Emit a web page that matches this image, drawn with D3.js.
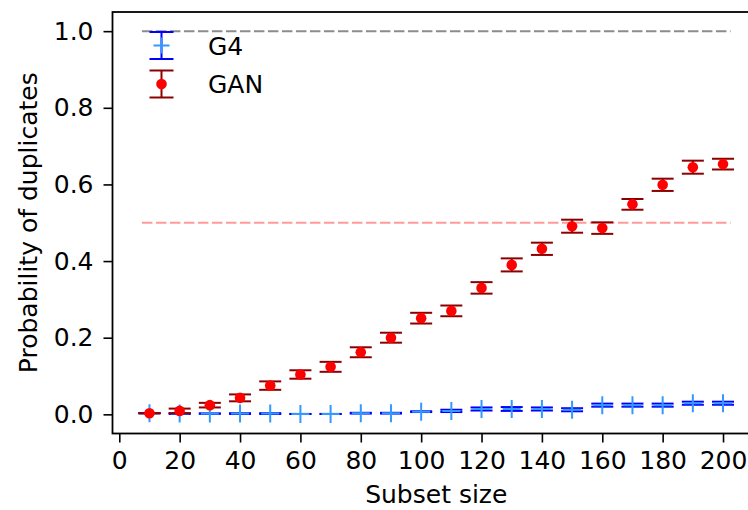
<!DOCTYPE html>
<html>
<head>
  <meta charset="utf-8">
  <title>Probability of duplicates</title>
  <script src="https://d3js.org/d3.v7.min.js"></script>
  <style>
    body { margin: 0; background: #fff; }
    svg { display: block; overflow: hidden; }
    text { font-family: "DejaVu Sans", sans-serif; fill: #000; }
  </style>
</head>
<body>
  <script>
    // data
    const subsetSizes = [10, 20, 30, 40, 50, 60, 70, 80, 90, 100, 110, 120, 130, 140, 150, 160, 170, 180, 190, 200];
    const ganMean = [0.003, 0.009, 0.024, 0.043, 0.075, 0.104, 0.124, 0.162, 0.200, 0.251, 0.270, 0.330, 0.390, 0.432, 0.491, 0.486, 0.548, 0.599, 0.645, 0.653];
    const ganErr  = [0.000, 0.006, 0.006, 0.009, 0.011, 0.011, 0.013, 0.013, 0.013, 0.014, 0.014, 0.015, 0.017, 0.016, 0.017, 0.015, 0.014, 0.016, 0.017, 0.014];
    const g4Mean  = [0.003, 0.002, 0.002, 0.002, 0.002, 0.001, 0.001, 0.003, 0.003, 0.007, 0.009, 0.014, 0.014, 0.014, 0.012, 0.024, 0.024, 0.024, 0.029, 0.029];
    const g4Err   = [0.000, 0.001, 0.000, 0.001, 0.001, 0.000, 0.000, 0.001, 0.001, 0.001, 0.003, 0.004, 0.005, 0.004, 0.004, 0.004, 0.004, 0.004, 0.004, 0.004];
    const xTicks = [0, 20, 40, 60, 80, 100, 120, 140, 160, 180, 200];
    const yTicks = [0.0, 0.2, 0.4, 0.6, 0.8, 1.0];
    const refLines = [{value: 1.0, color: "#8c8c8c"}, {value: 0.5, color: "#ff9a9a"}];
    const refSpan = [7.5, 202.5];

    const width = 748, height = 510;
    const plot = {left: 112.5, top: 12, right: 760, bottom: 433.5};
    const fontSize = 25;

    const svg = d3.select("body").append("svg")
        .attr("width", width)
        .attr("height", height);

    const x = d3.scaleLinear().domain([-2.25, 212.25]).range([plot.left, plot.right]);
    const y = d3.scaleLinear().domain([-0.05, 1.05]).range([plot.bottom, plot.top]);

    // axes
    const xAxis = svg.append("g")
        .attr("transform", `translate(0,${plot.bottom})`)
        .call(d3.axisBottom(x).tickValues(xTicks).tickFormat(d3.format("d")).tickSize(9).tickPadding(9));
    const yAxis = svg.append("g")
        .attr("transform", `translate(${plot.left},0)`)
        .call(d3.axisLeft(y).tickValues(yTicks).tickFormat(d3.format(".1f")).tickSize(9).tickPadding(10));
    [xAxis, yAxis].forEach(function(g) {
      g.select(".domain").remove();
      g.selectAll(".tick line").attr("stroke", "#000").attr("stroke-width", 1.6);
      g.selectAll(".tick text").style("font-size", fontSize + "px").style("font-family", "DejaVu Sans");
    });

    // spines
    svg.append("rect")
        .attr("x", plot.left).attr("y", plot.top)
        .attr("width", plot.right - plot.left).attr("height", plot.bottom - plot.top)
        .attr("fill", "none").attr("stroke", "#000").attr("stroke-width", 1.8);

    // dashed reference lines
    svg.selectAll(".ref")
      .data(refLines).enter()
      .append("line")
        .attr("x1", x(refSpan[0])).attr("x2", x(refSpan[1]))
        .attr("y1", d => y(d.value)).attr("y2", d => y(d.value))
        .attr("stroke", d => d.color)
        .attr("stroke-width", 2)
        .attr("stroke-dasharray", "10.5,3.5");

    const capHalf = 11;

    function errorBars(g, means, errs, color) {
      const pts = subsetSizes.map((s, i) => ({s: s, m: means[i], e: errs[i]}));
      g.selectAll(".bar").data(pts).enter().append("line")
          .attr("x1", d => x(d.s)).attr("x2", d => x(d.s))
          .attr("y1", d => y(d.m - d.e)).attr("y2", d => y(d.m + d.e))
          .attr("stroke", color).attr("stroke-width", 2);
      ["lo", "hi"].forEach(function(side) {
        g.selectAll(".cap-" + side).data(pts).enter().append("line")
            .attr("x1", d => x(d.s) - capHalf).attr("x2", d => x(d.s) + capHalf)
            .attr("y1", d => y(side === "lo" ? d.m - d.e : d.m + d.e))
            .attr("y2", d => y(side === "lo" ? d.m - d.e : d.m + d.e))
            .attr("stroke", color).attr("stroke-width", 2);
      });
      return pts;
    }

    function plus(g, cx, cy, r) {
      g.append("path")
          .attr("d", `M${cx - r},${cy}H${cx + r}M${cx},${cy - r}V${cy + r}`)
          .attr("stroke", "#3399ff").attr("stroke-width", 2).attr("fill", "none");
    }

    // G4 series
    const g4 = svg.append("g");
    const g4Pts = errorBars(g4, g4Mean, g4Err, "#0000ff");
    g4Pts.forEach(d => plus(g4, x(d.s), y(d.m), 9));

    // GAN series
    const gan = svg.append("g");
    const ganPts = errorBars(gan, ganMean, ganErr, "#8b0000");
    gan.selectAll(".dot").data(ganPts).enter().append("circle")
        .attr("cx", d => x(d.s)).attr("cy", d => y(d.m))
        .attr("r", 5.3).attr("fill", "#ff0000");

    // legend
    const legend = svg.append("g");
    const entries = [
      {label: "G4", color: "#0000ff", cy: 45.5},
      {label: "GAN", color: "#8b0000", cy: 84}
    ];
    entries.forEach(function(e, i) {
      const lx = 161.5;
      legend.append("line").attr("x1", lx).attr("x2", lx).attr("y1", e.cy - 13.5).attr("y2", e.cy + 13.5)
          .attr("stroke", e.color).attr("stroke-width", 2);
      [-13.5, 13.5].forEach(function(off) {
        legend.append("line").attr("x1", lx - 12).attr("x2", lx + 12).attr("y1", e.cy + off).attr("y2", e.cy + off)
            .attr("stroke", e.color).attr("stroke-width", 2);
      });
      if (i === 0) plus(legend, lx, e.cy, 8);
      else legend.append("circle").attr("cx", lx).attr("cy", e.cy).attr("r", 5.3).attr("fill", "#ff0000");
      legend.append("text")
          .attr("x", 208).attr("y", e.cy).attr("dy", "0.36em")
          .style("font-size", fontSize + "px")
          .text(e.label);
    });

    // axis labels
    svg.append("text")
        .attr("x", (plot.left + plot.right) / 2).attr("y", 503)
        .attr("text-anchor", "middle")
        .style("font-size", fontSize + "px")
        .text("Subset size");
    svg.append("text")
        .attr("transform", `translate(37,${(plot.top + plot.bottom) / 2}) rotate(-90)`)
        .attr("text-anchor", "middle")
        .style("font-size", fontSize + "px")
        .text("Probability of duplicates");
  </script>
</body>
</html>
